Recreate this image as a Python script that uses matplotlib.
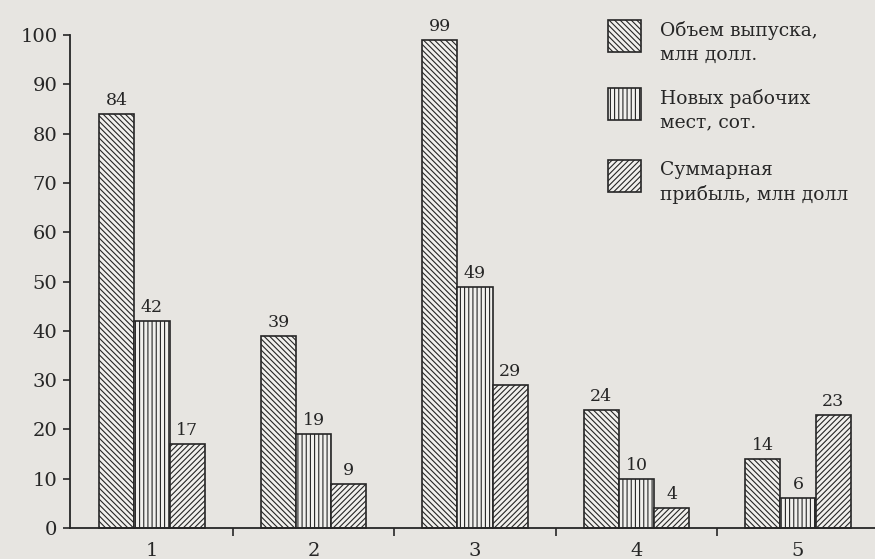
#!/usr/bin/env python3


import matplotlib
matplotlib.use("Agg")
import numpy as np
import matplotlib.pyplot as plt
from matplotlib.patches import Rectangle


groups = [1, 2, 3, 4, 5]
output_vol = [84, 39, 99, 24, 14]
new_jobs = [42, 19, 49, 10, 6]
total_profit = [17, 9, 29, 4, 23]

legend_labels = [
    "Объем выпуска,\nмлн долл.",
    "Новых рабочих\nмест, сот.",
    "Суммарная\nприбыль, млн долл",
]
hatches = ["\\" * 6, "||||", "/" * 6]


def main() -> None:
    plt.rcParams["font.family"] = ["DejaVu Serif"]
    plt.rcParams["hatch.linewidth"] = 0.8

    bg = "#e7e5e1"
    ink = "#262626"
    fill = "#f1f0ed"

    fig = plt.figure(figsize=(8.75, 5.59), dpi=100, facecolor=bg)
    ax = fig.add_axes([0.08, 0.0555, 0.92, 0.8815])
    ax.set_facecolor(bg)

    x = np.array(groups, dtype=float)
    w = 0.218
    series = [output_vol, new_jobs, total_profit]
    for i, vals in enumerate(series):
        pos = x + (i - 1) * w
        bars = ax.bar(pos, vals, width=w, facecolor=fill, edgecolor=ink,
                      hatch=hatches[i], linewidth=1.2, clip_on=False)
        for b, v in zip(bars, vals):
            ax.text(b.get_x() + b.get_width() / 2, v + 1.0, str(v),
                    ha="center", va="bottom", fontsize=12.5, color=ink)

    ax.set_xlim(0.492, 5.477)
    ax.set_ylim(0, 100)
    ax.set_yticks(range(0, 101, 10))
    ax.set_xticks(groups)
    ax.set_xticks([1.5, 2.5, 3.5, 4.5], minor=True)
    ax.tick_params(axis="x", which="major", length=0, pad=10,
                   labelsize=14, colors=ink)
    ax.tick_params(axis="x", which="minor", length=6, width=1.2,
                   direction="out", color=ink)
    ax.tick_params(axis="y", length=5, width=1.2, pad=4,
                   labelsize=14, colors=ink)

    for s in ["top", "right"]:
        ax.spines[s].set_visible(False)
    for s in ["left", "bottom"]:
        ax.spines[s].set_linewidth(1.3)
        ax.spines[s].set_color(ink)

    # legend drawn by hand, boxes aligned with first text line
    box_tops = [20, 88, 160]
    for top, lab, h in zip(box_tops, legend_labels, hatches):
        fig.add_artist(Rectangle((608 / 875, 1 - (top + 32) / 559),
                                 33 / 875, 32 / 559,
                                 transform=fig.transFigure,
                                 facecolor=fill, edgecolor=ink,
                                 hatch=h, linewidth=1.2))
        fig.text(660 / 875, 1 - (top + 1) / 559, lab, ha="left", va="top",
                 fontsize=13.5, color=ink, linespacing=1.4)

    plt.savefig("out.png", dpi=100, facecolor=bg)

    return


if __name__ == "__main__":
    main()
